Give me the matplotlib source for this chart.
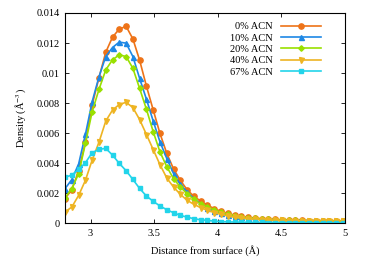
import matplotlib
matplotlib.use("Agg")
import matplotlib.pyplot as plt
from matplotlib.ticker import FuncFormatter

plt.rcParams['font.family'] = ['Liberation Serif', 'DejaVu Serif']
plt.rcParams['mathtext.fontset'] = 'stix'

x = [2.800, 2.853, 2.907, 2.960, 3.013, 3.067, 3.120, 3.173, 3.226, 3.280,
     3.333, 3.386, 3.440, 3.493, 3.546, 3.600, 3.653, 3.706, 3.759, 3.813,
     3.866, 3.919, 3.973, 4.026, 4.079, 4.133, 4.186, 4.239, 4.292, 4.346,
     4.399, 4.452, 4.506, 4.559, 4.612, 4.666, 4.719, 4.772, 4.825, 4.879,
     4.932, 4.985]

acn0 = [0.00163, 0.00223, 0.00348, 0.00540, 0.00787, 0.00970, 0.01139, 0.01239, 0.01293, 0.01311,
        0.01228, 0.01086, 0.00912, 0.00754, 0.00598, 0.00464, 0.00361, 0.00285, 0.00223, 0.00178,
        0.00147, 0.00120, 0.00096, 0.00078, 0.00064, 0.00053, 0.00045, 0.00038, 0.00033, 0.00029,
        0.00026, 0.00024, 0.00022, 0.00020, 0.00019, 0.00018, 0.00017, 0.00017, 0.00016, 0.00016,
        0.00015, 0.00015]
acn10 = [0.00230, 0.00290, 0.00395, 0.00591, 0.00809, 0.00976, 0.01110, 0.01170, 0.01206, 0.01199,
         0.01110, 0.00965, 0.00825, 0.00680, 0.00542, 0.00430, 0.00330, 0.00259, 0.00207, 0.00163,
         0.00129, 0.00103, 0.00083, 0.00068, 0.00056, 0.00047, 0.00040, 0.00034, 0.00030, 0.00027,
         0.00024, 0.00022, 0.00020, 0.00019, 0.00018, 0.00017, 0.00016, 0.00016, 0.00015, 0.00015,
         0.00014, 0.00014]
acn20 = [0.00169, 0.00230, 0.00330, 0.00531, 0.00742, 0.00892, 0.01021, 0.01088, 0.01121, 0.01110,
         0.01032, 0.00898, 0.00758, 0.00609, 0.00475, 0.00375, 0.00296, 0.00241, 0.00196, 0.00158,
         0.00129, 0.00107, 0.00088, 0.00072, 0.00060, 0.00050, 0.00042, 0.00036, 0.00031, 0.00027,
         0.00024, 0.00022, 0.00020, 0.00019, 0.00018, 0.00017, 0.00016, 0.00016, 0.00015, 0.00015,
         0.00014, 0.00014]
acn40 = [0.00074, 0.00107, 0.00185, 0.00285, 0.00420, 0.00540, 0.00680, 0.00753, 0.00790, 0.00805,
         0.00770, 0.00690, 0.00590, 0.00490, 0.00390, 0.00300, 0.00240, 0.00192, 0.00152, 0.00125,
         0.00103, 0.00085, 0.00070, 0.00058, 0.00048, 0.00040, 0.00034, 0.00030, 0.00026, 0.00023,
         0.00021, 0.00019, 0.00018, 0.00017, 0.00016, 0.00015, 0.00015, 0.00014, 0.00014, 0.00013,
         0.00013, 0.00013]
acn67 = [0.00305, 0.00320, 0.00358, 0.00402, 0.00469, 0.00491, 0.00498, 0.00453, 0.00398, 0.00349,
         0.00291, 0.00231, 0.00180, 0.00145, 0.00114, 0.00089, 0.00069, 0.00051, 0.00040, 0.00029,
         0.00022, 0.00018, 0.00013, 0.00010, 0.00008, 0.00007, 0.00006, 0.00005, 0.00004, 0.00004,
         0.00003, 0.00003, 0.00003, 0.00002, 0.00002, 0.00002, 0.00002, 0.00002, 0.00002, 0.00002,
         0.00002, 0.00002]

labels = ['0% ACN', '10% ACN', '20% ACN', '40% ACN', '67% ACN']
series = [acn0, acn10, acn20, acn40, acn67]
colors = ['#ee7318', '#1e88e5', '#99e000', '#eeb422', '#22d4ea']
markers = ['o', '^', 'D', 'v', 's']
msizes = [3.8, 3.6, 2.8, 3.6, 3.2]

fig = plt.figure(figsize=(3.74, 2.60), dpi=100)
ax = fig.add_axes([0.174, 0.142, 0.748, 0.808])

for y, lab, c, m, ms in zip(series, labels, colors, markers, msizes):
    ax.plot(x, y, color=c, marker=m, markersize=ms, linewidth=1.2, label=lab)

ax.set_xlim(2.8, 5.0)
ax.set_ylim(0, 0.014)
ax.set_xticks([3, 3.5, 4, 4.5, 5])
ax.set_yticks([0, 0.002, 0.004, 0.006, 0.008, 0.01, 0.012, 0.014])
ax.xaxis.set_major_formatter(FuncFormatter(lambda v, p: '%g' % v))
ax.yaxis.set_major_formatter(FuncFormatter(lambda v, p: '%g' % round(v, 4)))
ax.tick_params(direction='in', top=True, right=True, labelsize=7.5, length=3, width=0.6, pad=4)
for s in ax.spines.values():
    s.set_linewidth(0.8)

ax.set_xlabel('Distance from surface (Å)', fontsize=7.5, labelpad=5)
ax.set_ylabel('Density (Å$^{-3}$)', fontsize=7.5, labelpad=6)

leg = ax.legend(loc='upper right', frameon=False, markerfirst=False, fontsize=7.5,
                handlelength=3.8, handletextpad=0.8, labelspacing=0.2,
                borderaxespad=0.1, bbox_to_anchor=(0.933, 0.982))
for t in leg.get_texts():
    t.set_ha('right')

fig.savefig('out.png', dpi=100)
